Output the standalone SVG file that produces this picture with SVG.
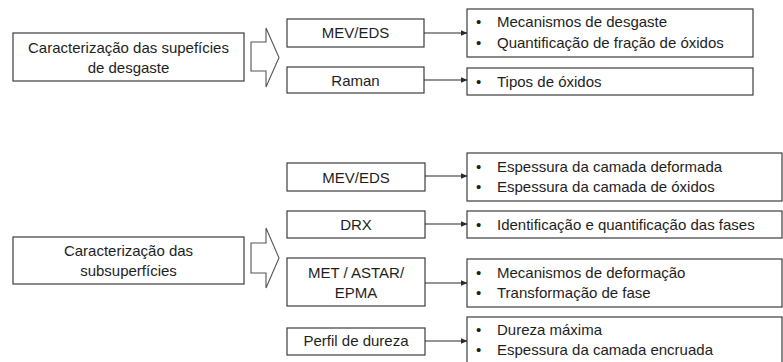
<svg xmlns="http://www.w3.org/2000/svg" width="783" height="362" viewBox="0 0 783 362">
  <style>
    .box { fill: #ffffff; stroke: #3c3c3c; stroke-width: 1.2; }
    .big { fill: #ffffff; stroke: #555555; stroke-width: 1.1; }
    .t { font-family: "Liberation Sans", Arial, sans-serif; font-size: 15px; fill: #1e1e1e; }
    .c { text-anchor: middle; }
    .link { stroke: #2a2a2a; stroke-width: 1.2; fill: none; marker-end: url(#ah); }
  </style>
  <defs>
    <marker id="ah" markerWidth="7" markerHeight="6" refX="6.5" refY="3" orient="auto" markerUnits="userSpaceOnUse">
      <path d="M0,0 L7,3 L0,6 Z" fill="#2a2a2a"/>
    </marker>
  </defs>
  <rect width="783" height="362" fill="#ffffff"/>

  <!-- surface characterization -->
  <g id="sup">
    <rect class="box" x="13" y="33" width="231" height="48"/>
    <text class="t c" x="128.5" y="53">Caracterização das supefícies</text>
    <text class="t c" x="128.5" y="73">de desgaste</text>
  </g>
  <g id="sup-arrow">
    <path class="big" d="M251,42 H266 V28 L279,57.5 L266,87 V71 H251 Z"/>
  </g>
  <g id="sup-mev">
    <rect class="box" x="287" y="19" width="137" height="28"/>
    <text class="t c" x="355.5" y="38">MEV/EDS</text>
  </g>
  <g id="sup-raman">
    <rect class="box" x="287" y="67" width="137" height="26"/>
    <text class="t c" x="355.5" y="86">Raman</text>
  </g>
  <g id="sup-mev-out">
    <rect class="box" x="467" y="9" width="286" height="48"/>
    <text class="t" x="476" y="27">•</text>
    <text class="t" x="497" y="27">Mecanismos de desgaste</text>
    <text class="t" x="476" y="48">•</text>
    <text class="t" x="497" y="48">Quantificação de fração de óxidos</text>
  </g>
  <g id="sup-raman-out">
    <rect class="box" x="467" y="68" width="286" height="27"/>
    <text class="t" x="476" y="87">•</text>
    <text class="t" x="497" y="87">Tipos de óxidos</text>
  </g>

  <!-- subsurface characterization -->
  <g id="sub">
    <rect class="box" x="13" y="237" width="231" height="47"/>
    <text class="t c" x="128.5" y="256">Caracterização das</text>
    <text class="t c" x="128.5" y="276">subsuperfícies</text>
  </g>
  <g id="sub-arrow">
    <path class="big" d="M251,243 H266 V228 L279,258 L266,288 V273 H251 Z"/>
  </g>
  <g id="sub-mev">
    <rect class="box" x="287" y="163" width="138" height="28"/>
    <text class="t c" x="356" y="183">MEV/EDS</text>
  </g>
  <g id="sub-drx">
    <rect class="box" x="287" y="211" width="138" height="27"/>
    <text class="t c" x="356" y="230">DRX</text>
  </g>
  <g id="sub-met">
    <rect class="box" x="287" y="258" width="138" height="48"/>
    <text class="t c" x="356" y="278">MET / ASTAR/</text>
    <text class="t c" x="356" y="298">EPMA</text>
  </g>
  <g id="sub-perfil">
    <rect class="box" x="287" y="328" width="138" height="27"/>
    <text class="t c" x="356" y="346">Perfil de dureza</text>
  </g>
  <g id="sub-mev-out">
    <rect class="box" x="467" y="153" width="315" height="48"/>
    <text class="t" x="476" y="172">•</text>
    <text class="t" x="497" y="172">Espessura da camada deformada</text>
    <text class="t" x="476" y="192">•</text>
    <text class="t" x="497" y="192">Espessura da camada de óxidos</text>
  </g>
  <g id="sub-drx-out">
    <rect class="box" x="467" y="211" width="315" height="27"/>
    <text class="t" x="476" y="230">•</text>
    <text class="t" x="497" y="230">Identificação e quantificação das fases</text>
  </g>
  <g id="sub-met-out">
    <rect class="box" x="467" y="259" width="315" height="48"/>
    <text class="t" x="476" y="278">•</text>
    <text class="t" x="497" y="278">Mecanismos de deformação</text>
    <text class="t" x="476" y="298">•</text>
    <text class="t" x="497" y="298">Transformação de fase</text>
  </g>
  <g id="sub-perfil-out">
    <rect class="box" x="467" y="317" width="315" height="50"/>
    <text class="t" x="476" y="335">•</text>
    <text class="t" x="497" y="335">Dureza máxima</text>
    <text class="t" x="476" y="355">•</text>
    <text class="t" x="497" y="355">Espessura da camada encruada</text>
  </g>

  <!-- connectors -->
  <g id="connectors">
    <line class="link" x1="424" y1="33" x2="467" y2="33"/>
    <line class="link" x1="424" y1="80" x2="467" y2="80"/>
    <line class="link" x1="425" y1="176" x2="467" y2="176"/>
    <line class="link" x1="425" y1="224" x2="467" y2="224"/>
    <line class="link" x1="425" y1="283" x2="467" y2="283"/>
    <line class="link" x1="425" y1="341" x2="467" y2="341"/>
  </g>
</svg>
